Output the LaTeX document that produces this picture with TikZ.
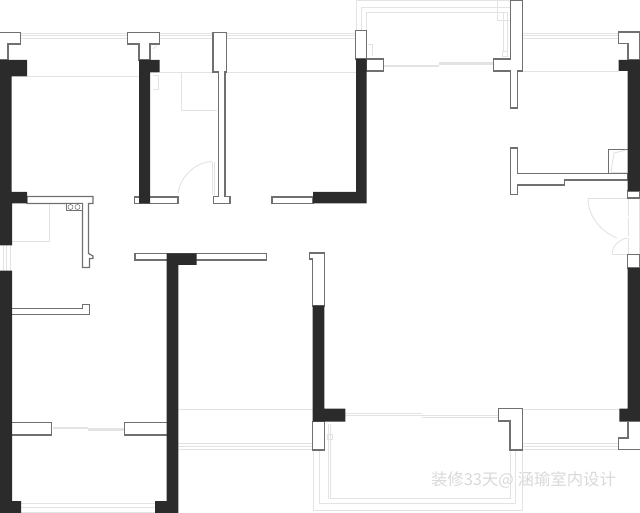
\documentclass[tikz,border=0pt]{standalone}
\usepackage{fontspec}
\newfontfamily\cjk{Noto Sans CJK SC}
\definecolor{wallblack}{HTML}{2B2B2B}
\definecolor{wallgray}{HTML}{707070}
\definecolor{thingray}{HTML}{E3E3E3}
\tikzset{
	newwall/.style={fill=wallblack,draw=none},
	oldwall/.style={fill=white,draw=wallgray,line width=1.25pt},
	thin line/.style={draw=thingray,line width=0.9pt},
	band/.style={draw=thingray,line width=2.2pt},
}
\begin{document}
\begin{tikzpicture}[x=1pt,y=-1pt]
	\useasboundingbox (0,0) rectangle (640,513);
	\fill[white] (0,0) rectangle (640,513);
	% windows, upper side
	\foreach \a/\b in {21/127,160/213,227/356,523/618}{
		\draw[thin line] (\a,33) -- (\b,33);
		\draw[thin line] (\a,35.5) -- (\b,35.5);
		\draw[thin line] (\a,38.5) -- (\b,38.5);
	}
	\draw[thin line] (27,76) -- (139,76);
	\draw[thin line] (160,72) -- (213,72);
	\draw[thin line] (227,72) -- (356,72);
	\draw[thin line] (523,71) -- (619,71);
	\draw[thin line] (181,72) -- (181,110.5) -- (217,110.5);
	\draw[thin line] (153,75) -- (158,75) -- (158,89) -- (153,89);
	\draw[thin line] (153,49) -- (157,46);
	% balcony, upper side
	\draw[thin line] (356,30) -- (356,0.5) -- (510,0.5);
	\draw[thin line] (361,30) -- (361,7.5) -- (510,7.5);
	\draw[thin line] (366,30) -- (366,12) -- (507,12);
	\draw[thin line] (503.5,12) -- (503.5,51);
	\draw[thin line] (507,12) -- (507,51);
	\draw[thin line] (497,0.5) -- (497,20.5) -- (510,20.5);
	\draw[thin line] (502.5,51) rectangle (507,56);
	\draw[thin line] (368,44.5) -- (372,44.5) -- (372,56);
	\draw[band] (384,66) -- (439,66);
	\draw[band] (439,63.5) -- (494,63.5);
	% doors
	\draw[thin line] (178,194) .. controls (179,178) and (195,162) .. (212,161.5);
	\draw[thin line] (212,162) -- (212,195);
	\draw[thin line] (214,162) -- (214,195);
	\draw[thin line] (588,198) -- (627,198);
	\draw[thin line] (588,198) .. controls (588,216) and (600,231) .. (617,238);
	\draw[thin line] (612,254) .. controls (612,247) and (618,240) .. (627,238);
	\draw[thin line] (612,254.5) -- (627,254.5);
	\draw[thin line,dash pattern=on 18pt off 2pt] (628.5,198) -- (628.5,254);
	\draw[thin line] (639,198) -- (639,254);
	\draw[thin line] (536,184) -- (536,181) -- (556,180) -- (556,183);
	% left side
	\draw[thin line] (49.5,204) -- (49.5,241) -- (12,241);
	\foreach \a in {3,6.5,10}{
		\draw[thin line] (\a,245) -- (\a,271);
	}
	% lower side
	\draw[band] (53,428) -- (88,428);
	\draw[band] (88,429.5) -- (124,429.5);
	\foreach \a in {503.5,507.5,512}{
		\draw[thin line] (21,\a) -- (155,\a);
	}
	\draw[thin line] (178,409) -- (313,409);
	\draw[thin line] (522,409) -- (619,409);
	\foreach \a in {443,446,449.5}{
		\draw[thin line] (178,\a) -- (313,\a);
		\draw[thin line] (522,\a) -- (619,\a);
	}
	\draw[thin line] (345,413.5) -- (421.5,413.5);
	\draw[thin line] (345,415.5) -- (421.5,415.5);
	\draw[thin line] (421.5,415) -- (498,415);
	\draw[thin line] (421.5,417) -- (498,417);
	% balcony, lower side
	\draw[thin line] (313,450) -- (313,510) -- (522.5,510) -- (522.5,450);
	\draw[thin line] (319.5,450) -- (319.5,503.5) -- (515,503.5) -- (515,450);
	\draw[thin line] (330.5,424) -- (330.5,498.5) -- (510,498.5) -- (510,450);
	\draw[thin line] (328,424) -- (328,498.5);
	\draw[thin line] (327.5,434) rectangle (332,439);
	% walls, plain
	\draw[oldwall] (0,32.5) -- (20.5,32.5) -- (20.5,44) -- (8,44) -- (8,60) -- (0,60);
	\draw[oldwall] (127.5,32.5) -- (159.5,32.5) -- (159.5,44) -- (150,44) -- (150,60) -- (139,60) -- (139,44) -- (127.5,44) -- cycle;
	\draw[oldwall] (134.5,197) -- (178,197) -- (178,203.5) -- (134.5,203.5) -- cycle;
	\draw[oldwall] (213,32.5) -- (226.5,32.5) -- (226.5,72) -- (225,72) -- (225,196.5) -- (230,196.5) -- (230,203.5) -- (213.5,203.5) -- (213.5,196.5) -- (218.5,196.5) -- (218.5,72) -- (213,72) -- cycle;
	\draw[oldwall] (272,197) -- (313,197) -- (313,203.5) -- (272,203.5) -- cycle;
	\draw[oldwall] (355.7,30.5) -- (366.3,30.5) -- (366.3,59) -- (355.7,59) -- cycle;
	\draw[oldwall] (366.3,59) -- (383.5,59) -- (383.5,71) -- (366.3,71) -- cycle;
	\draw[oldwall] (510.7,0.5) -- (522.7,0.5) -- (522.7,71) -- (517.3,71) -- (517.3,108) -- (510.7,108) -- (510.7,71) -- (493.7,71) -- (493.7,59) -- (510.7,59) -- cycle;
	\draw[oldwall] (618.7,32) -- (640,32) -- (640,60) -- (628,60) -- (628,43.5) -- (618.7,43.5) -- cycle;
	\draw[oldwall] (627.7,191) -- (640,191) -- (640,198) -- (627.7,198) -- cycle;
	\draw[oldwall] (627.7,254.5) -- (640,254.5) -- (640,268) -- (627.7,268) -- cycle;
	\draw[oldwall] (510.7,148) -- (517.3,148) -- (517.3,173.7) -- (627.7,173.7) -- (627.7,180) -- (564.3,180) -- (564.3,185) -- (517.3,185) -- (517.3,194.7) -- (510.7,194.7) -- cycle;
	\draw[oldwall] (608.3,173.7) -- (608.3,149.5) -- (627.7,149.5);
	\draw[thin line] (611,172) -- (614,153) -- (626,150);
	\draw[thin line] (611,172) -- (627,172);
	\draw[oldwall] (27,196.5) -- (93,196.5) -- (93,203.5) -- (88.5,203.5) -- (88.5,253.5) -- (93,256) -- (93,258.5) -- (89.5,258.5) -- (89.5,267.5) -- (82.5,267.5) -- (82.5,203.5) -- (27,203.5) -- cycle;
	\draw[oldwall] (66.5,203.5) rectangle (82.7,210.5);
	\draw[wallgray,line width=0.5pt] (70.5,207) circle (2.5pt);
	\draw[wallgray,line width=0.5pt] (77.5,207) circle (2.5pt);
	\draw[oldwall] (135,253.5) -- (266.7,253.5) -- (266.7,260) -- (135,260) -- cycle;
	\draw[oldwall] (309.3,253) -- (324.3,253) -- (324.3,306) -- (312.7,306) -- (312.7,259) -- (309.3,259) -- cycle;
	\draw[oldwall] (12,308.3) -- (82.5,308.3) -- (82.5,304.3) -- (89.3,304.3) -- (89.3,314.7) -- (12,314.7);
	\draw[oldwall] (12,422.7) -- (51.7,422.7) -- (51.7,435) -- (12,435);
	\draw[oldwall] (166.7,422.7) -- (124.3,422.7) -- (124.3,435) -- (166.7,435);
	\draw[oldwall] (312.7,421.7) -- (324.3,421.7) -- (324.3,450) -- (312.7,450) -- cycle;
	\draw[oldwall] (498.3,408.7) -- (522.7,408.7) -- (522.7,450) -- (510,450) -- (510,421) -- (498.3,421) -- cycle;
	\draw[oldwall] (628,421.7) -- (628,438) -- (618.5,438) -- (618.5,449.7) -- (640,449.7);
	% walls, black
	\fill[newwall] (0,60) -- (27,60) -- (27,76.5) -- (11.5,76.5) -- (11.5,192) -- (27,192) -- (27,203.5) -- (12,203.5) -- (12,245.5) -- (0,245.5) -- cycle;
	\fill[newwall] (139,60) -- (159.5,60) -- (159.5,72.5) -- (150,72.5) -- (150,203.5) -- (139,203.5) -- cycle;
	\fill[newwall] (356,59) -- (366.5,59) -- (366.5,203.5) -- (313,203.5) -- (313,192) -- (356,192) -- cycle;
	\fill[newwall] (618.7,60) -- (640,60) -- (640,191) -- (627.7,191) -- (627.7,71) -- (618.7,71) -- cycle;
	\fill[newwall] (627.7,268) -- (640,268) -- (640,421.7) -- (619.3,421.7) -- (619.3,408.7) -- (627.7,408.7) -- cycle;
	\fill[newwall] (166.7,253.5) -- (196.7,253.5) -- (196.7,265) -- (178.3,265) -- (178.3,513) -- (155,513) -- (155,501) -- (166.7,501) -- cycle;
	\fill[newwall] (0,270.7) -- (12,270.7) -- (12,501) -- (21,501) -- (21,513) -- (0,513) -- cycle;
	\fill[newwall] (312.7,305.5) -- (324.3,305.5) -- (324.3,408.7) -- (345.3,408.7) -- (345.3,421.7) -- (312.7,421.7) -- cycle;
	% watermark
	\node[text=black!15,font=\cjk\fontsize{16.4}{18}\selectfont,inner sep=0pt] (watermark) at (523.5,479.5) {装修33天@ 涵瑜室内设计};
\end{tikzpicture}
\end{document}
